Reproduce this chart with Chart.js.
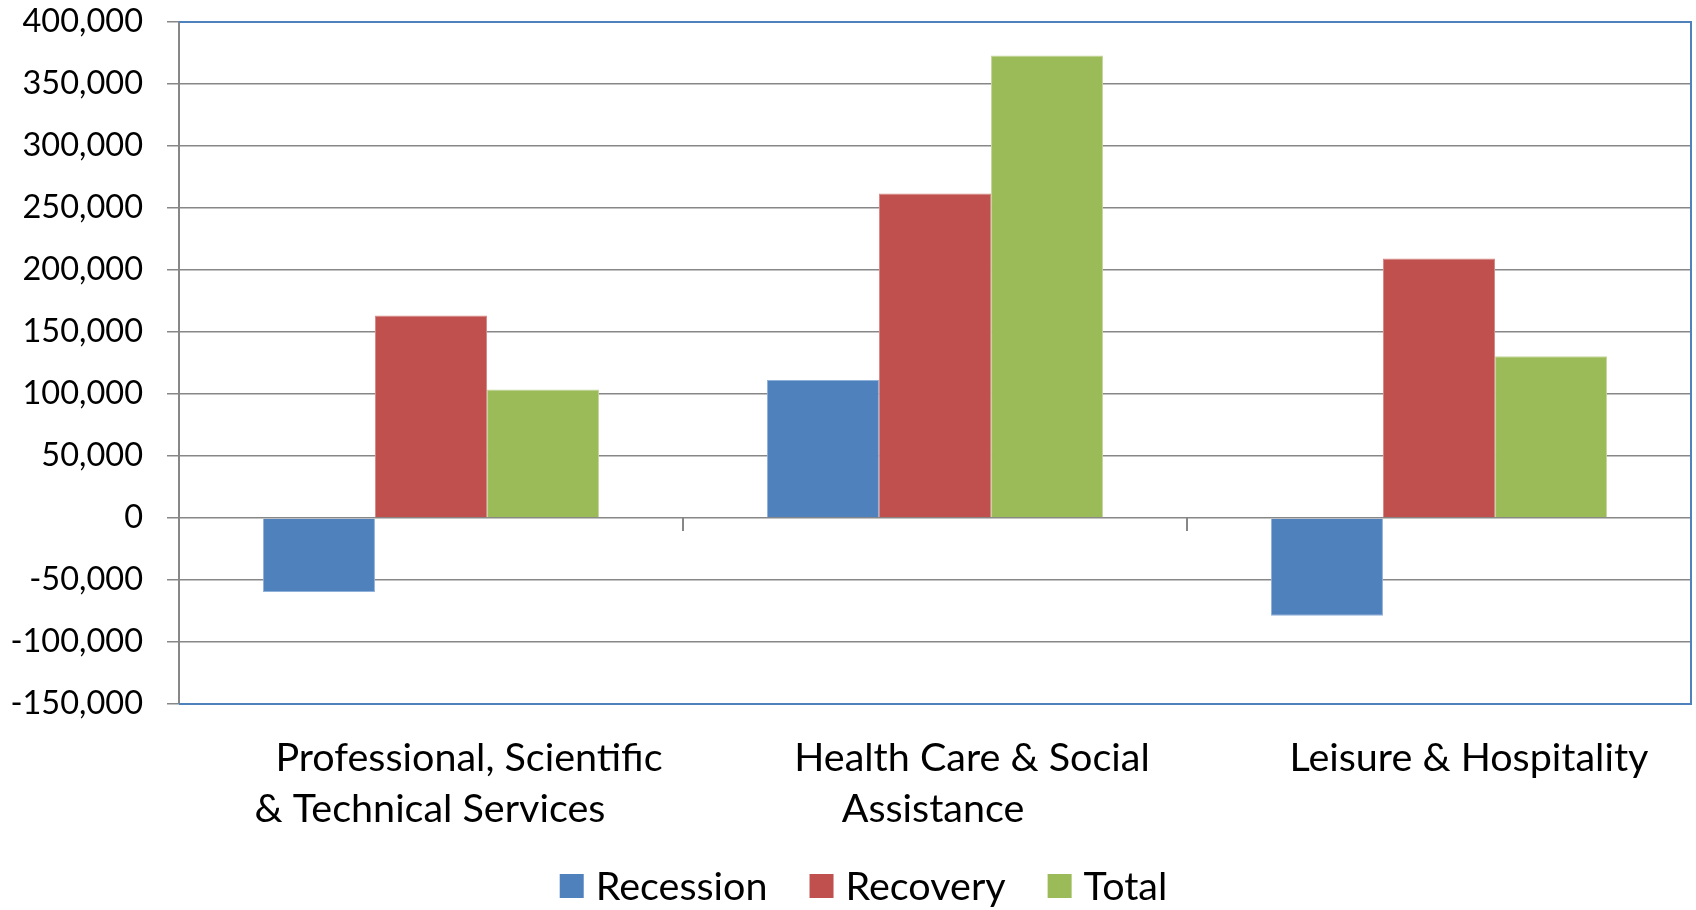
<!DOCTYPE html>
<html>
<head>
<meta charset="utf-8">
<script src="https://cdn.jsdelivr.net/npm/chart.js@4/dist/chart.umd.min.js"></script>
<style>
  html, body { margin: 0; padding: 0; background: #ffffff; }
  #wrap { width: 1696px; height: 910px; position: relative; }
</style>
</head>
<body>
<div id="wrap"><canvas id="c" width="1696" height="910"></canvas></div>
<script>
// ---- data ----
const categories = [
  ["Professional, Scientific", "& Technical Services"],
  ["Health Care & Social", "Assistance"],
  ["Leisure & Hospitality"]
];
const seriesNames = ["Recession", "Recovery", "Total"];
const recession = [-59700, 111300, -78800];
const recovery  = [163300, 261700, 209300];
const total     = [103600, 373000, 130500];
const yTicks = [-150000, -100000, -50000, 0, 50000, 100000, 150000, 200000, 250000, 300000, 350000, 400000];

// ---- styling ----
const FONT = "Lato";
const colors = ["#4F81BD", "#C0504D", "#9BBB59"];
const edges  = ["#8FB0D8", "#D88A88", "#C2D69A"];
const gridColor = "#878787";
const frameColor = "#4F81BD";

// frame (blue top/right/bottom) + zero-line category ticks
const framePlugin = {
  id: "frame",
  afterDatasetsDraw(chart) {
    const {ctx, chartArea: a, scales: {x, y}} = chart;
    ctx.save();
    ctx.strokeStyle = frameColor;
    ctx.lineWidth = 2;
    ctx.beginPath();
    ctx.moveTo(a.left, a.top);
    ctx.lineTo(a.right, a.top);
    ctx.lineTo(a.right, a.bottom);
    ctx.lineTo(a.left, a.bottom);
    ctx.stroke();
    const y0 = y.getPixelForValue(0);
    ctx.strokeStyle = gridColor;
    ctx.lineWidth = 2;
    for (let i = 1; i < categories.length; i++) {
      const px = (x.getPixelForValue(i - 1) + x.getPixelForValue(i)) / 2;
      ctx.beginPath();
      ctx.moveTo(px, y0);
      ctx.lineTo(px, y0 + 13);
      ctx.stroke();
    }
    ctx.restore();
  }
};

// category labels under the plot
const xLabelPlugin = {
  id: "xlabels",
  afterDraw(chart, args, opts) {
    const {ctx, chartArea: a, scales: {x}} = chart;
    ctx.save();
    ctx.font = opts.size + "px " + FONT;
    ctx.fillStyle = "#000";
    ctx.textAlign = "center";
    ctx.textBaseline = "alphabetic";
    categories.forEach((lines, i) => {
      const cx = x.getPixelForValue(i);
      lines.forEach((t, j) => {
        const off = (opts.offsets[i] && opts.offsets[i][j]) || 0;
        ctx.fillText(t, cx + off, a.bottom + opts.firstBaseline + j * opts.lineStep);
      });
    });
    ctx.restore();
  }
};

// legend drawn below the labels
const legendPlugin = {
  id: "bottomLegend",
  afterDraw(chart, args, opts) {
    const {ctx} = chart;
    ctx.save();
    ctx.font = opts.size + "px " + FONT;
    ctx.textBaseline = "alphabetic";
    ctx.textAlign = "left";
    const items = chart.data.datasets.map(d => ({text: d.label, color: d.backgroundColor, w: ctx.measureText(d.label).width}));
    let totalW = 0;
    items.forEach((it, i) => { totalW += opts.boxW + opts.gap + it.w + (i < items.length - 1 ? opts.spacing : 0); });
    let cx = opts.centerX - totalW / 2;
    items.forEach(it => {
      ctx.fillStyle = it.color;
      ctx.fillRect(cx, opts.boxTop, opts.boxW, opts.boxH);
      ctx.fillStyle = "#000";
      ctx.fillText(it.text, cx + opts.boxW + opts.gap, opts.baseline);
      cx += opts.boxW + opts.gap + it.w + opts.spacing;
    });
    ctx.restore();
  }
};

const datasets = [recession, recovery, total].map((vals, i) => ({
  label: seriesNames[i],
  data: vals,
  backgroundColor: colors[i],
  borderColor: edges[i],
  borderWidth: 1,
  borderSkipped: "start",
  categoryPercentage: 0.667,
  barPercentage: 1.0
}));

new Chart(document.getElementById("c"), {
  type: "bar",
  data: { labels: categories.map(l => l.join(" ")), datasets },
  options: {
    responsive: false,
    animation: false,
    devicePixelRatio: 1,
    layout: { padding: { top: 22, right: 5, bottom: 75, left: 0 } },
    plugins: {
      legend: { display: false },
      tooltip: { enabled: false },
      xlabels: { size: 39.5, firstBaseline: 67, lineStep: 51, offsets: [[38, -1], [37, -2], [30]] },
      bottomLegend: { size: 39.5, centerX: 863.5, boxTop: 874, boxW: 24, boxH: 24, gap: 12, spacing: 42, baseline: 900 }
    },
    scales: {
      x: {
        ticks: { display: false },
        grid: { display: false, drawTicks: false },
        border: { display: false },
        afterFit(s) { s.height = 131; s.paddingLeft = 0; s.paddingRight = 0; }
      },
      y: {
        min: -150000,
        max: 400000,
        afterBuildTicks(s) { s.ticks = yTicks.map(v => ({ value: v })); },
        afterFit(s) { s.width = 179; s.paddingTop = 0; s.paddingBottom = 0; },
        ticks: {
          padding: 24,
          color: "#000",
          font: { family: FONT, size: 32.5 },
          callback: v => Number(v).toLocaleString("en-US")
        },
        grid: { color: gridColor, lineWidth: 1.5, tickLength: 12, drawTicks: true },
        border: { display: true, color: gridColor, width: 2 }
      }
    }
  },
  plugins: [framePlugin, xLabelPlugin, legendPlugin]
});
</script>
</body>
</html>
